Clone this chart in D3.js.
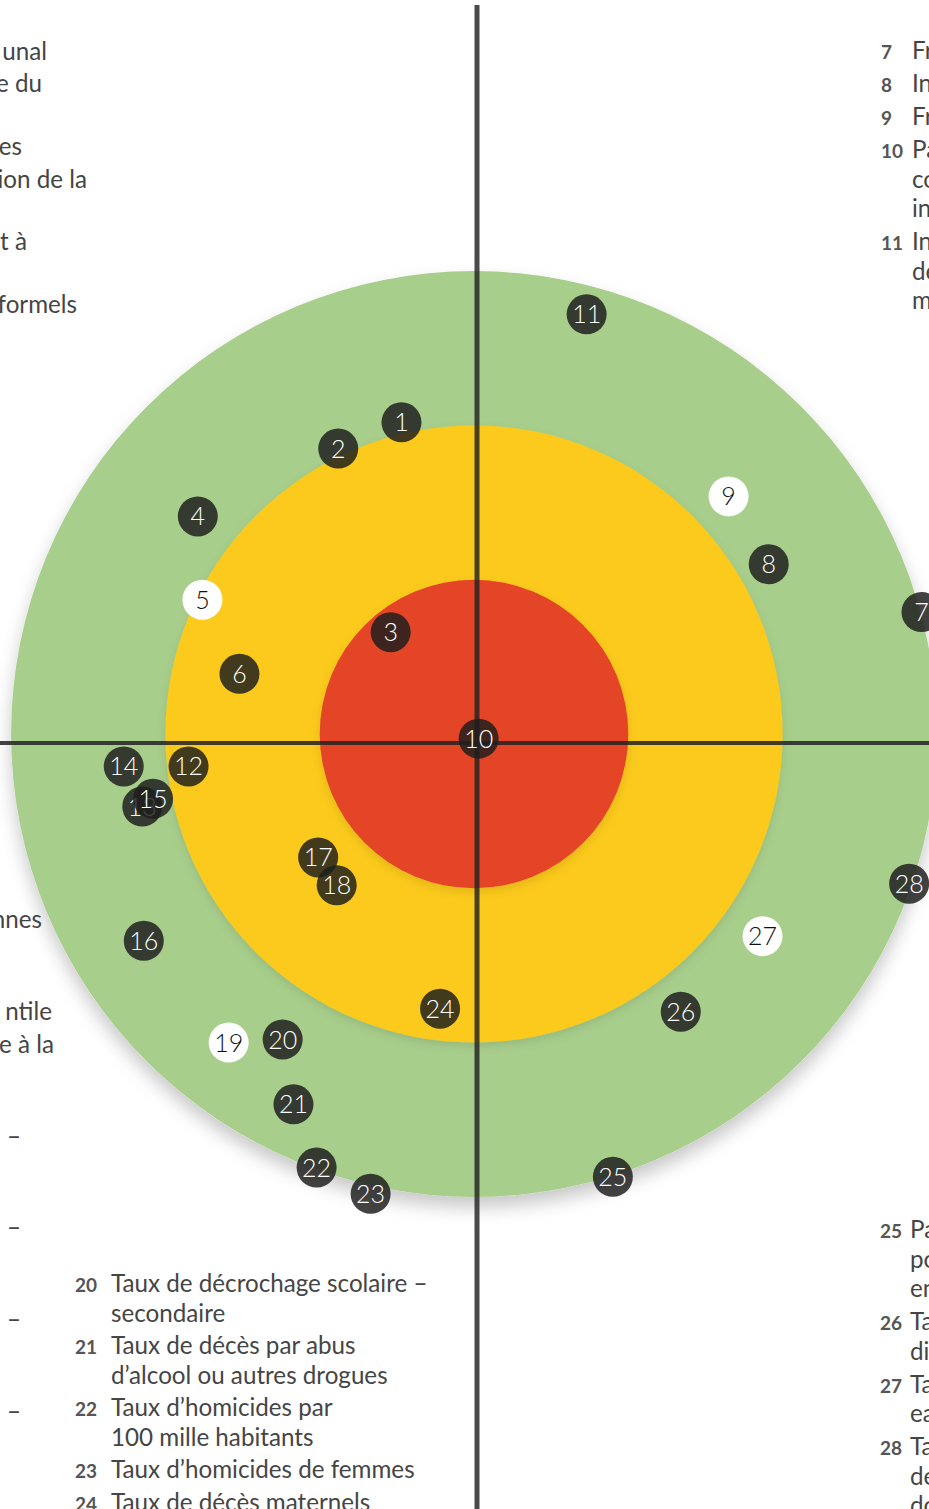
<!DOCTYPE html>
<html>
<head>
<meta charset="utf-8">
<script src="https://cdn.jsdelivr.net/npm/d3@7"></script>
<style>
  html, body { margin: 0; padding: 0; background: #fff; }
  svg { display: block; }
  text { font-family: Lato, "Open Sans", sans-serif; }
</style>
</head>
<body>
<div id="chart"></div>
<script>
// indicator numbers and their position in ring units (0 = centre, 1 = red edge, 2 = yellow edge, 3 = green edge)
const ids = [1, 2, 3, 4, 5, 6, 7, 8, 9, 10, 11, 12, 13, 14, 15, 16, 17, 18, 19, 20, 21, 22, 23, 24, 25, 26, 27, 28];
const posX = [-0.47, -0.88, -0.54, -1.79, -1.76, -1.52, 2.90, 1.91, 1.65, 0.03, 0.73, -1.85, -2.15, -2.27, -2.08, -2.14, -1.01, -0.89, -1.59, -1.24, -1.17, -1.02, -0.67, -0.22, 0.90, 1.34, 1.87, 2.82];
const posY = [2.02, 1.85, 0.66, 1.41, 0.87, 0.39, 0.79, 1.10, 1.54, -0.03, 2.72, -0.21, -0.47, -0.21, -0.42, -1.34, -0.80, -0.98, -2.00, -1.98, -2.40, -2.81, -2.98, -1.78, -2.87, -1.80, -1.31, -0.97];
const whiteIds = [5, 9, 19, 27];

// rings: outer to inner
const rings = [3, 2, 1];
const ringColors = ["#a8ce8b", "#fcca1a", "#e44527"];

// legend texts (the picture is a crop: left column only shows line endings, right column only starts)
const leftLines = ["unal", "e du", "es", "ion de la", "t à", "formels", "nnes", "ntile", "e à la", "–", "–", "–", "–"];
const leftBase = [60, 92, 155, 188, 250, 313, 928, 1020, 1053, 1145, 1236, 1328, 1420];
const leftEnd = [47, 42, 22, 87, 27, 77, 42, 52, 54, 21, 21, 21, 21];

const rightItems = [
  { n: "7", lines: ["Fréquentation scolaire"] },
  { n: "8", lines: ["Indice de développement"] },
  { n: "9", lines: ["Fréquentation préscolaire"] },
  { n: "10", lines: ["Part des dépenses", "communales en", "investissement"] },
  { n: "11", lines: ["Indice de", "dépendance", "municipale"] }
];
const rightBottomItems = [
  { n: "25", lines: ["Part de la", "population", "en pauvreté"] },
  { n: "26", lines: ["Taux de", "diabète"] },
  { n: "27", lines: ["Taux d'accès à", "eau potable"] },
  { n: "28", lines: ["Taux de", "desserte en", "données"] }
];
const centerItems = [
  { n: "20", lines: ["Taux de décrochage scolaire –", "secondaire"] },
  { n: "21", lines: ["Taux de décès par abus", "d’alcool ou autres drogues"] },
  { n: "22", lines: ["Taux d’homicides par", "100 mille habitants"] },
  { n: "23", lines: ["Taux d’homicides de femmes"] },
  { n: "24", lines: ["Taux de décès maternels"] }
];

(() => {
    const width = 929, height = 1509;
    const cx = 474, cy = 734, unit = 154.3;
    const bodySize = "24.2px";

    const svg = d3.select("#chart").append("svg")
        .attr("width", width)
        .attr("height", height);

    // soft shadow under the rings
    const defs = svg.append("defs");
    const addShadow = (id, dy, sd, op) => {
        defs.append("filter").attr("id", id)
            .attr("x", "-20%").attr("y", "-20%").attr("width", "140%").attr("height", "140%")
            .append("feDropShadow")
            .attr("dx", 0).attr("dy", dy)
            .attr("stdDeviation", sd)
            .attr("flood-color", "#000")
            .attr("flood-opacity", op);
    };
    addShadow("shadowOuter", 10, 9, 0.22);
    addShadow("shadowInner", 4, 5, 0.10);

    const x = d3.scaleLinear().domain([-3, 3]).range([cx - 3 * unit, cx + 3 * unit]);
    const y = d3.scaleLinear().domain([-3, 3]).range([cy + 3 * unit, cy - 3 * unit]);
    const r = d3.scaleLinear().domain([0, 3]).range([0, 3 * unit]);

    // target rings
    svg.append("g").selectAll("circle")
        .data(rings)
        .join("circle")
        .attr("cx", x(0))
        .attr("cy", y(0))
        .attr("r", d => r(d))
        .attr("fill", (d, i) => ringColors[i])
        .attr("filter", (d, i) => i === 0 ? "url(#shadowOuter)" : "url(#shadowInner)");

    // axes cross
    svg.append("line")
        .attr("x1", 477).attr("x2", 477)
        .attr("y1", 5).attr("y2", height)
        .attr("stroke", "#222").attr("stroke-opacity", 0.82)
        .attr("stroke-width", 5);
    svg.append("line")
        .attr("x1", 0).attr("x2", width)
        .attr("y1", 743).attr("y2", 743)
        .attr("stroke", "#222").attr("stroke-opacity", 0.85)
        .attr("stroke-width", 4);

    // markers
    const points = ids.map((id, i) => ({ id, x: posX[i], y: posY[i], white: whiteIds.includes(id) }));
    const mk = svg.append("g").selectAll("g")
        .data(points)
        .join("g")
        .attr("transform", d => `translate(${x(d.x)},${y(d.y)})`);
    mk.append("circle")
        .attr("r", 20)
        .attr("fill", d => d.white ? "#fff" : "#1e1e1e")
        .attr("fill-opacity", d => d.white ? 1 : 0.84);
    mk.append("text")
        .attr("text-anchor", "middle")
        .attr("dy", "0.36em")
        .attr("fill", d => d.white ? "#111" : "#fff")
        .style("font-size", "25px")
        .style("font-weight", 300)
        .text(d => d.id);

    // left column endings
    svg.append("g").selectAll("text")
        .data(leftLines)
        .join("text")
        .attr("x", (d, i) => leftEnd[i])
        .attr("y", (d, i) => leftBase[i])
        .attr("text-anchor", "end")
        .attr("fill", "#454545")
        .style("font-size", bodySize)
        .text(d => d);

    // numbered legend blocks
    function legend(items, numX, txtX, startY, lineH, gap) {
        const g = svg.append("g");
        let yy = startY;
        items.forEach(it => {
            g.append("text")
                .attr("x", numX).attr("y", yy)
                .attr("fill", "#555")
                .style("font-size", "19px")
                .style("font-weight", "bold")
                .text(it.n);
            it.lines.forEach((l, k) => {
                g.append("text")
                    .attr("x", txtX).attr("y", yy + k * lineH)
                    .attr("fill", "#454545")
                    .style("font-size", bodySize)
                    .text(l);
            });
            yy += (it.lines.length - 1) * lineH + gap;
        });
    }

    legend(rightItems, 881, 912, 59, 29.5, 33);
    legend(rightBottomItems, 880, 910, 1238, 29.5, 33);
    legend(centerItems, 75, 111, 1292, 29.5, 32.5);
})();
</script>
</body>
</html>
